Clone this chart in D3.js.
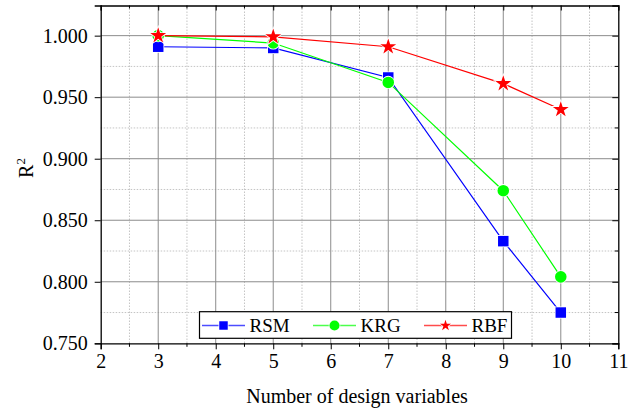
<!DOCTYPE html>
<html>
<head>
<meta charset="utf-8">
<script src="https://cdn.jsdelivr.net/npm/d3@7"></script>
<style>
  html, body { margin: 0; padding: 0; background: #fff; }
  svg { display: block; }
  svg text { font-family: "Liberation Serif", "Times New Roman", Times, "DejaVu Serif", serif !important; }
</style>
</head>
<body>
<svg id="chart" width="644" height="411"></svg>
<script>
// Design-variable counts and R² for each surrogate model
const designVars = [3, 5, 7, 9, 10];
const rsm = [0.991, 0.990, 0.966, 0.833, 0.775];
const krg = [1.000, 0.994, 0.962, 0.874, 0.804];
const rbf = [1.000, 0.999, 0.991, 0.961, 0.940];
const xTicks = [2, 3, 4, 5, 6, 7, 8, 9, 10, 11];
const yTicks = [0.750, 0.800, 0.850, 0.900, 0.950, 1.000];

const series = [
  { name: "RSM", values: rsm, color: "#0000ff", symbol: d3.symbolSquare, size: 110, legSize: 72 },
  { name: "KRG", values: krg, color: "#00ff00", symbol: d3.symbolCircle, size: 105, legSize: 80 },
  { name: "RBF", values: rbf, color: "#ff0000", symbol: d3.symbolStar, size: 78, legSize: 38 }
];

const svg = d3.select("#chart");
const plot = { left: 100.7, right: 618.3, top: 5.5, bottom: 343.3 };

const x = d3.scaleLinear().domain([2, 11]).range([plot.left, plot.right]);
const y = d3.scaleLinear().domain([0.75, 1.0245]).range([plot.bottom, plot.top]);

const g = svg.append("g");

// minor grid (dotted)
const xMinor = d3.range(2.5, 11, 1);
const yMinor = d3.range(0.775, 1.02, 0.05);
g.selectAll(".xminor").data(xMinor).join("line")
  .attr("x1", d => x(d)).attr("x2", d => x(d))
  .attr("y1", plot.top).attr("y2", plot.bottom)
  .attr("stroke", "#c4c4c4").attr("stroke-dasharray", "1.5,1.5").attr("stroke-width", 1);
g.selectAll(".yminor").data(yMinor).join("line")
  .attr("x1", plot.left).attr("x2", plot.right)
  .attr("y1", d => y(d)).attr("y2", d => y(d))
  .attr("stroke", "#c4c4c4").attr("stroke-dasharray", "1.5,1.5").attr("stroke-width", 1);

// major grid (solid)
g.selectAll(".xmajor").data(xTicks.slice(1, -1)).join("line")
  .attr("x1", d => x(d)).attr("x2", d => x(d))
  .attr("y1", plot.top).attr("y2", plot.bottom)
  .attr("stroke", "#8c8c8c").attr("stroke-width", 1);
g.selectAll(".ymajor").data(yTicks.slice(1)).join("line")
  .attr("x1", plot.left).attr("x2", plot.right)
  .attr("y1", d => y(d)).attr("y2", d => y(d))
  .attr("stroke", "#8c8c8c").attr("stroke-width", 1);

// axes: outward ticks on bottom/left, inward ticks on top/right
const axBottom = svg.append("g").attr("transform", `translate(0,${plot.bottom})`)
  .call(d3.axisBottom(x).tickValues(xTicks).tickSize(6).tickPadding(5).tickFormat(d3.format("d")));
axBottom.append("g").selectAll("line").data(xMinor).join("line")
  .attr("x1", d => x(d)).attr("x2", d => x(d)).attr("y1", 0).attr("y2", 3.5).attr("stroke", "#000");
const axLeft = svg.append("g").attr("transform", `translate(${plot.left},0)`)
  .call(d3.axisLeft(y).tickValues(yTicks).tickSize(6).tickPadding(7).tickFormat(d3.format(".3f")));
const axTop = svg.append("g").attr("transform", `translate(0,${plot.top})`)
  .call(d3.axisBottom(x).tickValues(xTicks).tickSize(5).tickFormat(""));
axTop.append("g").selectAll("line").data(xMinor).join("line")
  .attr("x1", d => x(d)).attr("x2", d => x(d)).attr("y1", 0).attr("y2", 3).attr("stroke", "#000");
const axRight = svg.append("g").attr("transform", `translate(${plot.right},0)`)
  .call(d3.axisLeft(y).tickValues(yTicks).tickSize(6).tickFormat(""));
axRight.append("g").selectAll("line").data(yMinor).join("line")
  .attr("y1", d => y(d)).attr("y2", d => y(d)).attr("x1", 0).attr("x2", -3.5).attr("stroke", "#000");

[axBottom, axLeft, axTop, axRight].forEach(a => {
  a.attr("font-family", null);
  a.select(".domain").attr("stroke", "#000").attr("stroke-width", 1.3);
  a.selectAll(".tick line").attr("stroke", "#000");
  a.selectAll("text").attr("font-size", 20).attr("fill", "#000");
});

// axis titles
svg.append("text").attr("x", 357).attr("y", 403)
  .attr("text-anchor", "middle").attr("font-size", 20).text("Number of design variables");
const yt = svg.append("text").attr("transform", "translate(33,168) rotate(-90)")
  .attr("text-anchor", "middle").attr("font-size", 20);
yt.append("tspan").text("R");
yt.append("tspan").attr("dy", -8).attr("font-size", 13).text("2");

// series lines and markers
const line = d3.line().x(d => x(d[0])).y(d => y(d[1]));
series.forEach(s => {
  const pts = designVars.map((v, i) => [v, s.values[i]]);
  svg.append("path").datum(pts).attr("d", line)
    .attr("fill", "none").attr("stroke", s.color).attr("stroke-width", 1.2);
});
series.forEach(s => {
  const pts = designVars.map((v, i) => [v, s.values[i]]);
  svg.append("g").selectAll("path").data(pts).join("path")
    .attr("transform", d => `translate(${x(d[0])},${y(d[1])})`)
    .attr("d", d3.symbol().type(s.symbol).size(s.size))
    .attr("fill", s.color).attr("stroke", "#fff").attr("stroke-width", 1.6)
    .attr("paint-order", "stroke");
});

// legend
const lg = svg.append("g");
lg.append("rect").attr("x", 199.5).attr("y", 311.7).attr("width", 312).attr("height", 26.6)
  .attr("fill", "#fff").attr("stroke", "#000").attr("stroke-width", 1.2);
const legX = [202, 313, 424];
series.forEach((s, i) => {
  const lx = legX[i], ly = 325.5;
  lg.append("line").attr("x1", lx).attr("x2", lx + 43).attr("y1", ly).attr("y2", ly)
    .attr("stroke", s.color).attr("stroke-opacity", 0.7).attr("stroke-width", 1.3);
  lg.append("path").attr("transform", `translate(${lx + 21.5},${ly})`)
    .attr("d", d3.symbol().type(s.symbol).size(s.legSize))
    .attr("fill", s.color).attr("stroke", "#fff").attr("stroke-width", 1.5)
    .attr("paint-order", "stroke");
  lg.append("text").attr("x", lx + 47.5).attr("y", 332.3).attr("font-size", 19).text(s.name);
});
</script>
</body>
</html>
